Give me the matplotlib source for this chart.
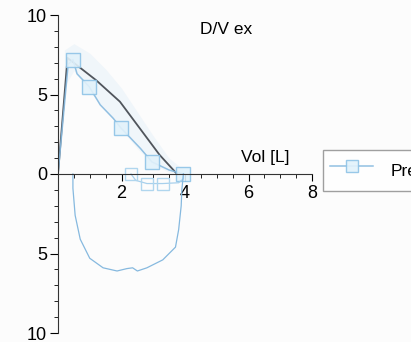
import numpy as np
import matplotlib.pyplot as plt
from matplotlib.ticker import MultipleLocator, FixedLocator, FuncFormatter

plt.rcParams['font.family'] = ['Liberation Sans', 'DejaVu Sans']

# predicted expiratory curve (dark line)
pred_vol = [0.0, 0.3, 1.2, 1.95, 3.2, 3.75]
pred_flow = [0.0, 7.3, 5.9, 4.55, 1.2, 0.0]

# measured expiratory curve with square markers
exp_vol = [0.0, 0.32, 0.47, 0.6, 0.98, 1.33, 1.74, 1.98, 2.1, 2.6, 2.96, 3.5, 3.95]
exp_flow = [0.0, 6.9, 7.2, 6.3, 5.5, 4.35, 3.5, 2.9, 2.65, 1.6, 0.76, 0.25, 0.0]
exp_marks = [2, 4, 7, 10, 12]

# small loop near zero flow
loop_vol = [2.3, 2.45, 2.8, 3.3, 3.8, 3.95, 3.95]
loop_flow = [0.0, -0.4, -0.6, -0.6, -0.55, -0.3, 0.0]
loop_marks = [0, 2, 3]

# measured inspiratory curve
insp_vol = [3.95, 3.9, 3.88, 3.8, 3.7, 3.3, 2.8, 2.5, 2.35, 2.17, 1.86, 1.42,
            1.0, 0.7, 0.54, 0.47, 0.47]
insp_flow = [0.0, -1.0, -2.0, -3.5, -4.6, -5.4, -5.9, -6.1, -5.9, -5.95, -6.1,
             -5.9, -5.3, -4.1, -2.6, -0.9, 0.0]

# faint haze around the expiratory part
haze_vol = [0.2, 0.5, 1.0, 1.5, 2.0, 2.5, 3.0, 3.5, 4.0]
haze_low = [5.5, 6.5, 5.2, 4.0, 2.8, 1.6, 0.6, 0.1, 0.0]
haze_high = [7.8, 8.2, 7.6, 6.6, 5.4, 3.9, 2.4, 1.0, 0.2]

light = '#86b9df'

fig = plt.figure(figsize=(4.11, 3.42), dpi=100, facecolor='#fcfcfc')
ax = fig.add_axes([58 / 411, 1 - 333 / 342, (312 - 58) / 411, (333 - 15) / 342])
ax.set_facecolor('none')

ax.fill_between(haze_vol, haze_low, haze_high, color='#c4def2', alpha=0.2, lw=0)
ax.plot(pred_vol, pred_flow, color='#50555c', lw=1.3)
ax.plot(exp_vol, exp_flow, color=light, lw=1.1, marker='s', markersize=10,
        markerfacecolor='#e2f2fb', markeredgecolor='#8ec3e6', markevery=exp_marks,
        alpha=0.9, label='Pred')
ax.plot(loop_vol, loop_flow, color='#a8d0ec', lw=0.9, marker='s', markersize=9,
        markerfacecolor='none', markeredgecolor='#b0d6ee', markevery=loop_marks)
ax.plot(insp_vol, insp_flow, color=light, lw=0.9)

ax.set_xlim(0, 8)
ax.set_ylim(-10, 10)

ax.spines['top'].set_visible(False)
ax.spines['right'].set_visible(False)
ax.spines['bottom'].set_position(('data', 0))
ax.spines['left'].set_color('#333333')
ax.spines['bottom'].set_color('#333333')

ax.xaxis.set_major_locator(FixedLocator([2, 4, 6, 8]))
ax.xaxis.set_minor_locator(MultipleLocator(0.5))
ax.yaxis.set_major_locator(MultipleLocator(5))
ax.yaxis.set_minor_locator(MultipleLocator(1))
ax.yaxis.set_major_formatter(FuncFormatter(lambda v, p: '%d' % abs(v)))
ax.tick_params(axis='x', which='major', direction='out', length=5, labelsize=13, pad=3)
ax.tick_params(axis='x', which='minor', direction='out', length=3)
ax.tick_params(axis='y', which='major', direction='out', length=6, labelsize=13, pad=2)
ax.tick_params(axis='y', which='minor', direction='out', length=3)

ax.text(7.3, 0.55, 'Vol [L]', ha='right', va='bottom', fontsize=12.5)
ax.text(5.3, 9.1, 'D/V ex', ha='center', va='center', fontsize=12.5)

fig.legend(loc='upper left', bbox_to_anchor=(323 / 411, 1 - 150 / 342),
           fontsize=12.5, frameon=True, fancybox=False, edgecolor='#888888',
           borderpad=0.4, handlelength=2.5, handleheight=2.0, handletextpad=1.0,
           borderaxespad=0, markerscale=0.8)

fig.savefig('out.png', dpi=100, facecolor=fig.get_facecolor())
